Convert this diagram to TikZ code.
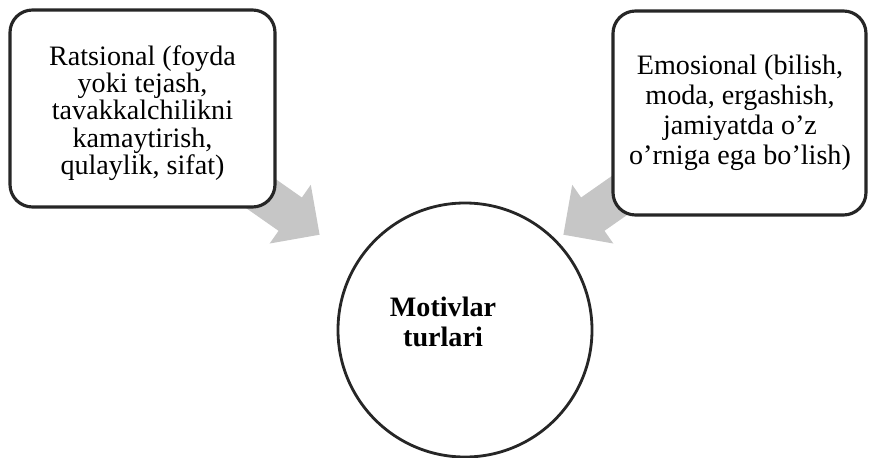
\documentclass[tikz,border=0pt]{standalone}
\usepackage{fontspec}
\setmainfont{Liberation Serif}
\usetikzlibrary{shapes.arrows}
\tikzset{
  motivbox/.style={draw=black!85, line width=1.8pt, rounded corners=0.45cm, fill=white},
  motivtext/.style={align=center, font=\fontsize{16}{15.6}\selectfont},
  bigarrow/.style={single arrow, fill=gray!45, draw=none, inner xsep=0pt, inner ysep=0.4cm,
    single arrow head extend=0.31cm, minimum height=1.9cm, anchor=tip}
}
\begin{document}
\begin{tikzpicture}
\useasboundingbox (0,0) rectangle (17.4,9.14);
% arrows behind the boxes
\node[bigarrow, rotate=-35] (arrL) at (6.4,4.44) {};
\node[bigarrow, rotate=215] (arrR) at (11.26,4.44) {};
% boxes and circle
\node[motivbox, minimum width=5.3cm, minimum height=3.94cm] (ratsional) at (2.85,6.97) {};
\node[motivbox, minimum width=5.06cm, minimum height=4.08cm] (emosional) at (14.79,6.88) {};
\node[motivtext] (ratsT) at (2.85,6.88) {Ratsional (foyda\\yoki tejash,\\tavakkalchilikni\\kamaytirish,\\qulaylik, sifat)};
\node[motivtext, font=\fontsize{16}{17}\selectfont] (emosT) at (14.8,6.88) {Emosional (bilish,\\moda, ergashish,\\jamiyatda o'z\\o'rniga ega bo'lish)};
\node[circle, draw=black!85, line width=1.6pt, minimum size=5.08cm] (motiv) at (9.3,2.54) {};
\node[motivtext, font=\fontsize{16}{17}\selectfont\bfseries] (motivT) at (8.86,2.7) {Motivlar\\turlari};
\end{tikzpicture}
\end{document}
